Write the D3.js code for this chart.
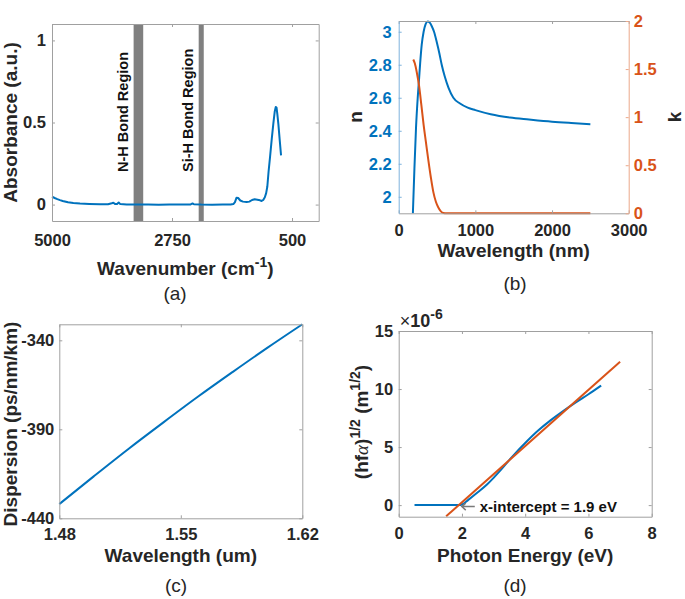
<!DOCTYPE html>
<html><head><meta charset="utf-8">
<script src="https://cdn.jsdelivr.net/npm/d3@7"></script>
<style>html,body{margin:0;padding:0;background:#fff;}</style>
</head><body>
<svg id="c" width="685" height="599"></svg>
<script>
// ---------- DATA ----------
// (a) FTIR absorbance
const ftirWavenumber = [5000,4950,4900,4850,4800,4700,4600,4475,4300,4100,3950,3880,3850,3820,3780,3750,3720,3600,3400,3200,3000,2800,2500,2400,2365,2340,2200,2000,1800,1650,1600,1570,1540,1510,1470,1420,1350,1300,1250,1200,1150,1100,1070,1040,1010,985,963,940,912,880,850,825,805,790,775,756,730,706];
const ftirAbsorbance = [0.048,0.04,0.033,0.027,0.022,0.014,0.009,0.006,0.004,0.002,0.002,0.008,0.011,0.004,0.004,0.013,0.003,0.001,0.0,0.0,-0.001,0.0,0.0,0.001,0.007,0.002,0.0,-0.001,0.0,0.001,0.003,0.015,0.042,0.04,0.025,0.018,0.016,0.018,0.028,0.032,0.03,0.026,0.022,0.028,0.045,0.07,0.11,0.2,0.29,0.4,0.495,0.565,0.595,0.59,0.55,0.49,0.39,0.30];
const bondRegions = [{name:"N-H Bond Region", from:3470, to:3290},{name:"Si-H Bond Region", from:2250, to:2155}];
const ftirXTicks = [5000,2750,500];
const ftirYTicks = [0,0.5,1];

// (b) refractive index n and extinction k
const nWavelength = [185,205,226,248,265,280,300,325,350,378,405,430,461,500,530,561,600,650,713,800,900,1000,1200,1450,1700,2000,2250,2500];
const nValue = [1.9,2.17,2.42,2.6,2.71,2.81,2.92,3.0,3.045,3.062,3.055,3.035,3.0,2.93,2.87,2.8,2.73,2.66,2.6,2.565,2.54,2.525,2.5,2.48,2.468,2.455,2.447,2.44];
const kWavelength = [190,210,235,265,295,325,355,387,420,452,485,517,550,585,620,1000,1500,2000,2500];
const kValue = [1.6,1.56,1.47,1.33,1.13,0.92,0.74,0.55,0.37,0.22,0.12,0.06,0.02,0.003,0,0,0,0,0];
const nkXTicks = [0,1000,2000,3000];
const nTicks = [2,2.2,2.4,2.6,2.8,3];
const kTicks = [0,0.5,1,1.5,2];

// (c) dispersion
const dispWavelength = [1.48,1.50,1.52,1.54,1.56,1.58,1.60,1.62];
const dispValue = [-432,-416.3,-400.9,-386.1,-371.6,-357.7,-344.1,-331];
const dispXTicks = [1.48,1.55,1.62];
const dispYTicks = [-440,-390,-340];

// (d) Tauc plot
const taucEnergy = [0.5,1.0,1.5,1.9,2.0,2.2,2.5,2.8,3.0,3.3,3.6,4.0,4.4,4.8,5.2,5.6,6.0,6.4];
const taucValue = [0,0,0,0,0.05,0.45,1.1,1.8,2.35,3.25,4.2,5.35,6.4,7.3,8.1,8.85,9.55,10.3];
const fitEnergy = [1.5,7.0];
const fitValue = [-0.97,12.35];
const interceptEnergy = 1.9;
const taucXTicks = [0,2,4,6,8];
const taucYTicks = [0,5,10,15];

// ---------- STYLE ----------
const FONT = "'Liberation Sans', Arial, Helvetica, sans-serif";
const TICK_FS = 16.5, LABEL_FS = 19, CAP_FS = 19, SUP_FS = 14;
const TXT = "#262626", BOX = "#a0a0a0";
const BLUE = "#0072BD", ORANGE = "#D95319", GRAYBAND = "#808080";

const svg = d3.select("#c");

function makePanel(box, xDom, yDom){
  return {
    box,
    x: d3.scaleLinear().domain(xDom).range([box.l, box.r]),
    y: d3.scaleLinear().domain(yDom).range([box.b, box.t])
  };
}

function drawAxis(gen, tx, ty, color, lineColor, showLabels){
  const g = svg.append("g").attr("transform", `translate(${tx},${ty})`).call(gen);
  g.attr("font-family", FONT).attr("font-size", TICK_FS).attr("font-weight", "bold");
  g.selectAll("text").attr("fill", color);
  g.select(".domain").attr("stroke", lineColor).attr("stroke-width", 1);
  g.selectAll(".tick line").attr("stroke", lineColor);
  if(!showLabels) g.selectAll(".tick text").remove();
  return g;
}

function frame(p, xTicks, yTicks, opt){
  opt = opt || {};
  const b = p.box;
  const fmt = d => String(d);
  drawAxis(d3.axisBottom(p.x).tickValues(xTicks).tickFormat(fmt).tickSizeInner(-3).tickSizeOuter(0).tickPadding(opt.xPad||11), 0, b.b, TXT, BOX, true);
  drawAxis(d3.axisTop(p.x).tickValues(xTicks).tickSizeInner(-3).tickSizeOuter(0), 0, b.t, TXT, BOX, false);
  drawAxis(d3.axisLeft(p.y).tickValues(yTicks).tickFormat(fmt).tickSizeInner(-3).tickSizeOuter(0).tickPadding(opt.yPad||6), b.l, 0, opt.leftColor||TXT, opt.leftLine||BOX, true);
  if(opt.right){
    drawAxis(d3.axisRight(opt.right.scale).tickValues(opt.right.ticks).tickFormat(fmt).tickSizeInner(-3).tickSizeOuter(0).tickPadding(5), b.r, 0, opt.right.color, opt.right.line, true);
  } else {
    drawAxis(d3.axisRight(p.y).tickValues(yTicks).tickSizeInner(-3).tickSizeOuter(0), b.r, 0, TXT, BOX, false);
  }
}

function addParts(t, parts){
  let raised = false;
  parts.forEach(pt => {
    const o = (typeof pt === "string") ? {t:pt} : pt;
    const s = t.append("tspan").text(o.t);
    if(o.sup){
      s.attr("font-size", SUP_FS).attr("dy", raised ? 0 : -8);
      raised = true;
    } else if(raised){
      s.attr("dy", 8); raised = false;
    }
    if(o.italic){ s.attr("font-style","italic").attr("font-weight","normal").attr("font-family","'Liberation Serif', serif"); }
  });
}
function xLabel(p, y, parts){
  const t = svg.append("text").attr("x", (p.box.l+p.box.r)/2).attr("y", y)
    .attr("text-anchor","middle").attr("font-family",FONT).attr("font-weight","bold")
    .attr("font-size",LABEL_FS).attr("fill",TXT);
  addParts(t, parts);
}
function yLabel(x, y, parts){
  const t = svg.append("text").attr("transform",`translate(${x},${y}) rotate(-90)`)
    .attr("text-anchor","middle").attr("font-family",FONT).attr("font-weight","bold")
    .attr("font-size",LABEL_FS).attr("fill",TXT);
  addParts(t, parts);
}
function caption(x, y, txt){
  svg.append("text").attr("x",x).attr("y",y).attr("text-anchor","middle")
    .attr("font-family",FONT).attr("font-size",CAP_FS).attr("fill",TXT).text(txt);
}
function linePath(p, xs, ys, color, curve){
  const data = xs.map((d,i)=>[d, ys[i]]);
  svg.append("path").datum(data)
    .attr("d", d3.line().x(d=>p.x(d[0])).y(d=>p.y(d[1])).curve(curve||d3.curveMonotoneX))
    .attr("fill","none").attr("stroke",color).attr("stroke-width",2).attr("stroke-linejoin","round");
}

// ---------- (a) ----------
const pa = makePanel({l:52,r:318.7,t:24,b:221},[5000,0],[-0.1,1.1]);
svg.append("g").selectAll("rect").data(bondRegions).join("rect")
  .attr("x", d=>pa.x(d.from)).attr("width", d=>pa.x(d.to)-pa.x(d.from))
  .attr("y", pa.box.t).attr("height", pa.box.b-pa.box.t).attr("fill", GRAYBAND);
svg.append("g").selectAll("text").data(bondRegions).join("text")
  .attr("transform", d=>`translate(${pa.x(d.from)-5.5},${pa.box.b-49}) rotate(-90)`)
  .attr("font-family",FONT).attr("font-weight","bold").attr("font-size",14.5).attr("fill","#111")
  .text(d=>d.name);
linePath(pa, ftirWavenumber, ftirAbsorbance, BLUE, d3.curveLinear);
frame(pa, ftirXTicks, ftirYTicks, {xPad:13});
xLabel(pa, 275, ["Wavenumber (cm",{t:"-1",sup:true},")"]);
yLabel(17, (pa.box.t+pa.box.b)/2, ["Absorbance (a.u.)"]);
caption(175, 300, "(a)");

// ---------- (b) ----------
const pb = makePanel({l:398.7,r:628.7,t:21,b:213.3},[0,3000],[1.9,3.065]);
const kScale = d3.scaleLinear().domain([0,2]).range([pb.box.b, pb.box.t]);
linePath(pb, nWavelength, nValue, BLUE);
linePath({x:pb.x, y:kScale}, kWavelength, kValue, ORANGE);
frame(pb, nkXTicks, nTicks, {xPad:11, yPad:7, leftColor:BLUE, leftLine:"#7fb3dc",
  right:{scale:kScale, ticks:kTicks, color:ORANGE, line:"#eba88a"}});
xLabel(pb, 256.5, ["Wavelength (nm)"]);
yLabel(362, 117, ["n"]);
yLabel(681, 117, ["k"]);
caption(515, 290, "(b)");

// ---------- (c) ----------
const pc = makePanel({l:59.3,r:302.3,t:324.3,b:518.3},[1.48,1.62],[-440,-331]);
linePath(pc, dispWavelength, dispValue, BLUE);
frame(pc, dispXTicks, dispYTicks, {xPad:10, yPad:5});
xLabel(pc, 562, ["Wavelength (um)"]);
yLabel(16.5, 424, ["Dispersion (ps/nm/km)"]);
caption(176, 592, "(c)");

// ---------- (d) ----------
const pd = makePanel({l:398.7,r:651.7,t:331,b:516.7},[0,8],[-1,15]);
linePath(pd, taucEnergy, taucValue, BLUE);
linePath(pd, fitEnergy, fitValue, ORANGE, d3.curveLinear);
frame(pd, taucXTicks, taucYTicks, {xPad:10.5, yPad:5.5});
// annotation arrow + text
const ax = pd.x(interceptEnergy), ay = pd.y(0);
svg.append("path")
  .attr("d", `M${ax+16},${ay+1.5}H${ax+3}M${ax+7},${ay-2}L${ax+3},${ay+1.5}L${ax+7},${ay+5}`)
  .attr("fill","none").attr("stroke","#7a7a7a").attr("stroke-width",1.5);
svg.append("text").attr("x", ax+21).attr("y", ay+6.5)
  .attr("font-family",FONT).attr("font-weight","bold").attr("font-size",15).attr("fill","#111")
  .text("x-intercept = 1.9 eV");
// exponent label
const ex = svg.append("text").attr("x", pd.box.l+1).attr("y", pd.box.t-4)
  .attr("font-family",FONT).attr("font-size",18).attr("fill",TXT);
ex.append("tspan").text("×");
ex.append("tspan").attr("font-weight","bold").text("10");
ex.append("tspan").attr("font-weight","bold").attr("font-size",14).attr("dy",-8).text("-6");
xLabel(pd, 562, ["Photon Energy (eV)"]);
yLabel(368, 422, ["(hf",{t:"α",italic:true},")",{t:"1/2",sup:true}," (m",{t:"1/2",sup:true},")"]);
caption(515, 592, "(d)");
</script>
</body></html>
